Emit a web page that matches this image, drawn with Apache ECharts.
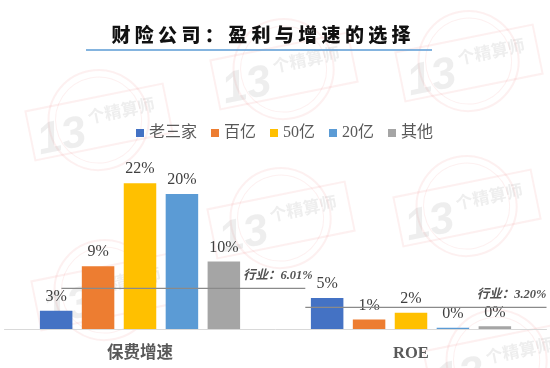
<!DOCTYPE html>
<html>
<head>
<meta charset="utf-8">
<script src="https://cdn.jsdelivr.net/npm/echarts@6/dist/echarts.min.js"></script>
<style>html,body{margin:0;padding:0;background:#fff;}#c{width:550px;height:368px;}</style>
</head>
<body>
<div id="c"></div>
<script>
// ---- data ----
const categories = ['保费增速', 'ROE'];
const seriesNames = ['老三家', '百亿', '50亿', '20亿', '其他'];
const laoSanJia = [2.7, 4.6];
const baiYi = [9.3, 1.4];
const wuShiYi = [21.6, 2.4];
const erShiYi = [20.0, 0.2];
const qiTa = [10.0, 0.4];
const industryAvg = [6.01, 3.20];
const industryLabels = ['行业：6.01%', '行业：3.20%'];
const titleText = '财险公司：盈利与增速的选择';

const colors = ['#4472C4', '#ED7D31', '#FFC000', '#5B9BD5', '#A5A5A5'];
const seriesValues = [laoSanJia, baiYi, wuShiYi, erShiYi, qiTa];
const FONT = '"Liberation Serif", "Noto Sans CJK SC", serif';

const chart = echarts.init(document.getElementById('c'), null, {renderer: 'canvas'});

const barSeries = seriesNames.map((name, i) => ({
  name: name,
  type: 'bar',
  data: seriesValues[i],
  barWidth: 32.5,
  barGap: '29%',
  itemStyle: {color: colors[i]},
  label: {
    show: true, position: 'top', distance: 6,
    formatter: p => Math.round(p.value) + '%',
    fontFamily: FONT, fontSize: 16, color: '#404040'
  },
  z: 2
}));

// industry average lines: x extents on a hidden 0..2 value axis (one unit per category)
const lineSpans = [[0.21, 1.11], [1.11, 2.0]];
const lineSeries = industryAvg.map((v, i) => ({
  type: 'line',
  xAxisIndex: 1,
  data: [[lineSpans[i][0], v], [lineSpans[i][1], v]],
  symbol: 'none',
  lineStyle: {color: '#8A8A8A', width: 1.2},
  silent: true,
  z: 5
}));
const labelAnchors = [0.88, 2.0];
const labelSeries = industryAvg.map((v, i) => ({
  type: 'scatter',
  xAxisIndex: 1,
  symbolSize: 0,
  silent: true,
  data: [[labelAnchors[i], v]],
  label: {
    show: true, position: 'top', distance: 6,
    align: i === 0 ? 'left' : 'right',
    formatter: () => industryLabels[i],
    fontFamily: FONT, fontSize: 12.5, fontWeight: 'bold', fontStyle: 'italic', color: '#262626'
  },
  z: 6
}));

// decorative watermark stamps
function stamp(x, y) {
  const red = 'rgba(232,110,110,0.10)';
  const gray = 'rgba(160,160,160,0.18)';
  return {
    type: 'group', x: x, y: y, rotation: 0.2, silent: true, z: 100,
    children: [
      {type: 'circle', shape: {cx: 0, cy: -2, r: 50}, style: {fill: 'none', stroke: red, lineWidth: 2}},
      {type: 'circle', shape: {cx: 0, cy: -2, r: 43}, style: {fill: 'none', stroke: red, lineWidth: 1}},
      {type: 'rect', shape: {x: -70, y: -25, width: 140, height: 50}, style: {fill: 'none', stroke: red, lineWidth: 2}},
      {type: 'text', style: {text: '13', x: -64, y: 8, textAlign: 'left', align: 'left', textVerticalAlign: 'middle', verticalAlign: 'middle',
        font: 'italic bold 44px "Liberation Sans", sans-serif', fill: gray}},
      {type: 'text', style: {text: '个精算师', x: -10, y: -7, textAlign: 'left', align: 'left', textVerticalAlign: 'middle', verticalAlign: 'middle',
        font: 'bold 17px "Noto Sans CJK SC", sans-serif', fill: gray}}
    ]
  };
}
const stampCenters = [[99, 122], [284, 71], [469, 63], [281, 220], [467, 208], [105, 292], [497, 362]];

const option = {
  animation: false,
  backgroundColor: '#ffffff',
  color: colors,
  legend: {
    data: seriesNames,
    left: 131, top: 120,
    itemWidth: 8, itemHeight: 8, itemGap: 14,
    icon: 'rect',
    textStyle: {fontFamily: FONT, fontSize: 16, color: '#595959'}
  },
  grid: {left: 4.5, right: 3.5, top: 126.5, bottom: 39, containLabel: false},
  xAxis: [
    {
      type: 'category', data: categories,
      axisLine: {lineStyle: {color: '#D9D9D9', width: 1}},
      axisTick: {show: false},
      axisLabel: {margin: 16, fontFamily: FONT, fontSize: 16.5, fontWeight: 'bold', color: '#595959'}
    },
    {type: 'value', min: 0, max: 2, show: false}
  ],
  yAxis: {type: 'value', min: 0, max: 30, show: false, splitLine: {show: false}},
  series: [...barSeries, ...lineSeries, ...labelSeries],
  graphic: [
    {type: 'text', silent: true, z: 50,
      style: {text: titleText.split('').join(' '), x: 261, y: 35, textAlign: 'center', align: 'center',
        textVerticalAlign: 'middle', verticalAlign: 'middle',
        font: '900 19px "Noto Sans CJK SC", sans-serif', fill: '#111111'}},
    {type: 'line', silent: true, z: 50, shape: {x1: 86, y1: 50, x2: 432, y2: 50},
      style: {stroke: '#5B9BD5', lineWidth: 1.5}},
    ...stampCenters.map(c => stamp(c[0], c[1]))
  ]
};
chart.setOption(option);
</script>
</body>
</html>
